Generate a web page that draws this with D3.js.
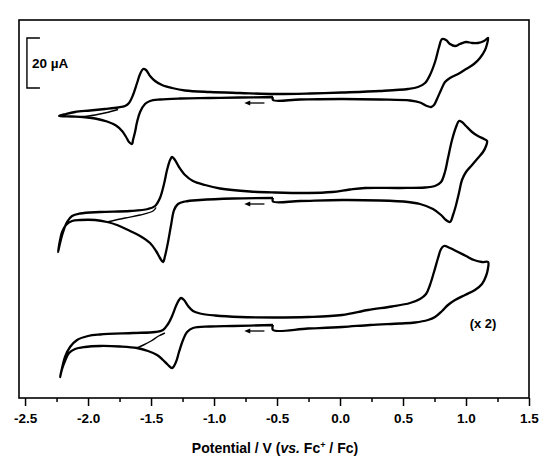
<!DOCTYPE html>
<html lang="en">
<head>
<meta charset="utf-8">
<title>Cyclic voltammograms</title>
<script src="https://cdn.jsdelivr.net/npm/d3@7"></script>
<style>
  body { margin: 0; background: #fff; }
  text { font-family: "Liberation Sans", Arial, sans-serif; font-weight: bold; fill: #000; }
</style>
</head>
<body>
<script>
// potential (V vs Fc+/Fc), current (uA)
var cv1 = [
  [-0.532,0],[-0.794,-0.2],[-1.032,-0.4],[-1.270,-0.6],[-1.429,-1.0],[-1.508,-1.6],[-1.548,-2.8],
  [-1.587,-6.0],[-1.611,-10.0],[-1.627,-14.0],[-1.643,-17.2],[-1.651,-18.8],[-1.675,-18.0],
  [-1.698,-16.0],[-1.730,-13.6],[-1.778,-11.4],[-1.849,-9.8],[-1.944,-8.6],[-2.040,-8.0],
  [-2.127,-7.8],[-2.230,-7.6],
  [-2.175,-6.8],[-2.103,-6.0],[-1.984,-5.4],[-1.865,-4.8],[-1.762,-4.2],[-1.706,-3.6],[-1.675,-2.4],
  [-1.643,0.8],[-1.611,5.6],[-1.587,9.2],[-1.563,11.2],[-1.540,10.8],[-1.508,8.4],[-1.468,6.4],
  [-1.413,4.8],[-1.333,3.6],[-1.230,2.6],[-1.032,2.0],[-0.794,1.6],[-0.516,1.2],[-0.238,1.4],
  [0.016,1.8],[0.317,2.4],[0.540,3.2],[0.619,4.0],[0.675,5.6],[0.714,8.8],[0.754,14.0],[0.786,20.0],
  [0.810,23.2],[0.841,22.8],[0.873,21.2],[0.913,20.4],[0.952,21.2],[1.000,22.0],[1.048,21.6],
  [1.095,21.6],[1.143,22.4],[1.175,23.6],
  [1.167,21.2],[1.151,18.8],[1.111,15.6],[1.063,13.2],[1.000,11.2],[0.937,9.2],[0.873,7.6],
  [0.833,6.0],[0.802,2.8],[0.770,-0.8],[0.746,-3.2],[0.722,-4.0],[0.690,-3.6],[0.635,-2.2],
  [0.556,-1.4],[0.317,-1.0],[0.016,-0.8],[-0.317,-1.0],[-0.532,-1.2],[-0.532,0]
];
var cv1second = [[-2.040,-7.9],[-1.944,-7.2],[-1.849,-6.2],[-1.762,-5.0]];
var cv2 = [
  [-0.532,1.2],[-0.849,1.0],[-1.111,0.4],[-1.230,-0.2],[-1.286,-1.2],[-1.317,-3.6],[-1.341,-9.6],
  [-1.365,-16.4],[-1.389,-22.0],[-1.405,-24.4],[-1.429,-22.8],[-1.460,-20.0],[-1.508,-16.8],
  [-1.587,-14.0],[-1.667,-12.0],[-1.770,-9.6],[-1.849,-8.4],[-1.944,-7.6],[-2.063,-7.6],
  [-2.127,-8.0],[-2.175,-9.6],[-2.206,-12.4],[-2.222,-15.6],[-2.238,-20.4],
  [-2.222,-16.8],[-2.198,-12.4],[-2.167,-8.4],[-2.127,-6.0],[-2.063,-5.0],[-1.905,-4.4],
  [-1.667,-4.0],[-1.524,-3.2],[-1.468,-2.0],[-1.429,1.2],[-1.397,6.8],[-1.373,12.4],[-1.349,16.4],
  [-1.333,17.6],[-1.310,16.4],[-1.278,13.6],[-1.230,10.4],[-1.167,8.0],[-1.071,6.4],[-0.952,5.0],
  [-0.714,3.8],[-0.516,3.4],[-0.254,3.2],[-0.063,3.6],[0.079,4.6],[0.198,5.2],[0.476,5.2],
  [0.675,5.4],[0.754,6.0],[0.802,7.6],[0.833,11.6],[0.857,17.2],[0.889,24.4],[0.921,29.6],
  [0.944,32.0],[0.968,31.6],[1.000,30.0],[1.048,27.6],[1.095,26.0],[1.143,24.8],[1.167,24.0],
  [1.159,22.0],[1.135,19.6],[1.095,17.2],[1.048,14.4],[1.000,11.6],[0.968,8.4],[0.944,3.2],
  [0.921,-1.6],[0.897,-5.6],[0.873,-8.4],[0.841,-7.6],[0.802,-5.6],[0.738,-3.2],[0.635,-1.2],
  [0.540,-0.4],[0.317,0.2],[0.016,0.4],[-0.317,0],[-0.532,-0.2],[-0.532,1.2]
];
var cv2second = [[-1.849,-8.4],[-1.706,-6.8],[-1.587,-5.6],[-1.484,-4.0],[-1.460,-2.6]];
// bottom trace is shown magnified x 2
var cv3 = [
  [-0.532,0],[-0.849,-0.2],[-1.032,-0.3],[-1.167,-0.6],[-1.214,-1.4],[-1.246,-3.0],[-1.278,-5.4],
  [-1.302,-7.4],[-1.333,-8.6],[-1.365,-8.0],[-1.405,-7.0],[-1.452,-6.0],[-1.524,-5.2],[-1.611,-4.6],
  [-1.746,-4.3],[-1.905,-4.2],[-2.024,-4.4],[-2.103,-4.8],[-2.151,-5.6],[-2.183,-7.2],[-2.206,-8.8],
  [-2.222,-10.4],
  [-2.206,-8.6],[-2.183,-6.4],[-2.143,-4.4],[-2.087,-3.0],[-2.000,-2.2],[-1.905,-1.9],[-1.643,-1.6],
  [-1.468,-1.4],[-1.405,-1.0],[-1.365,0.2],[-1.333,1.8],[-1.302,3.8],[-1.278,5.0],[-1.262,5.4],
  [-1.238,5.0],[-1.206,3.8],[-1.167,2.8],[-1.111,2.3],[-0.992,1.9],[-0.794,1.6],[-0.516,1.5],
  [-0.254,1.6],[0.016,2.0],[0.222,3.0],[0.413,3.7],[0.556,4.4],[0.635,5.2],[0.683,6.2],[0.714,8.0],
  [0.746,10.6],[0.778,13.4],[0.802,15.2],[0.825,15.8],[0.873,15.4],[0.937,14.6],[1.000,13.8],
  [1.063,13.0],[1.127,12.6],[1.175,12.6],
  [1.175,11.4],[1.159,9.8],[1.127,8.2],[1.071,7.0],[0.992,6.0],[0.913,5.0],[0.857,4.0],[0.810,2.8],
  [0.754,1.6],[0.698,1.0],[0.595,0.5],[0.476,0.3],[0.238,0],[0.016,-0.4],[-0.254,-0.7],[-0.532,-1.0],
  [-0.532,0]
];
var cv3second = [[-1.611,-4.6],[-1.560,-4.0],[-1.500,-3.2],[-1.440,-2.2],[-1.390,-1.6]];

var traceMagnify = [1, 1, 2];
var traceOffsets = [120.4, 78.8, 29.2];   // vertical stacking of the three traces (uA)
var scanArrowI = [-2.4, -1.2, -1.2];      // where the scan-direction arrow sits, per trace
var scanArrowE = [-0.60, -0.76];          // arrow from -> to (scan goes negative)

var potentialTicks = [-2.5, -2.0, -1.5, -1.0, -0.5, 0.0, 0.5, 1.0, 1.5];
var scaleBarUA = 20;

var width = 550, height = 472;
var margin = {top: 20, right: 21, bottom: 74, left: 19};
var w = width - margin.left - margin.right,
    h = height - margin.top - margin.bottom;

var xScale = d3.scaleLinear().domain([-2.548, 1.5]).range([0, w]);
var yScale = d3.scaleLinear().domain([0, 151.2]).range([h, 0]);

var svg = d3.select("body").append("svg")
    .attr("width", width)
    .attr("height", height)
  .append("g")
    .attr("transform", "translate(" + margin.left + "," + margin.top + ")");

// minor ticks first, then major
var minorTicks = d3.range(-2.25, 1.5, 0.5);
svg.append("g")
    .attr("transform", "translate(0," + h + ")")
    .call(d3.axisBottom(xScale).tickValues(minorTicks).tickSize(4).tickFormat(""))
    .call(function(g) { g.select(".domain").remove(); })
    .selectAll("line").attr("stroke-width", 1.5);

var xAxis = d3.axisBottom(xScale)
    .tickValues(potentialTicks)
    .tickSize(8)
    .tickPadding(7)
    .tickFormat(function(d) { return d.toFixed(1); });

var gx = svg.append("g")
    .attr("transform", "translate(0," + h + ")")
    .call(xAxis);
gx.select(".domain").remove();
gx.selectAll("line").attr("stroke-width", 1.5);
gx.selectAll("text")
    .style("font-size", "13.5px")
    .style("font-family", "'Liberation Sans', Arial, sans-serif")
    .style("font-weight", "bold")
    .attr("fill", "#000");

// frame
svg.append("rect")
    .attr("x", 0).attr("y", 0)
    .attr("width", w).attr("height", h)
    .attr("fill", "none")
    .attr("stroke", "#000")
    .attr("stroke-width", 1.6);

// axis title
var title = svg.append("text")
    .attr("x", w / 2 + 1)
    .attr("y", h + 55)
    .attr("text-anchor", "middle")
    .style("font-size", "14px");
title.append("tspan").text("Potential / V (");
title.append("tspan").style("font-style", "italic").text("vs.");
title.append("tspan").text(" Fc");
title.append("tspan").attr("dy", -5).style("font-size", "9px").text("+");
title.append("tspan").attr("dy", 5).text(" / Fc)");

// voltammograms
var traces = [cv1, cv2, cv3];
var extras = [cv1second, cv2second, cv3second];

function lineFor(k) {
  return d3.line()
    .x(function(d) { return xScale(d[0]); })
    .y(function(d) { return yScale(traceOffsets[k] + traceMagnify[k] * d[1]); })
    .curve(d3.curveCatmullRom.alpha(0.5));
}

traces.forEach(function(data, k) {
  var line = lineFor(k);
  svg.append("path")
      .datum(data)
      .attr("d", line)
      .attr("fill", "none")
      .attr("stroke", "#000")
      .attr("stroke-width", 2.3)
      .attr("stroke-linejoin", "round");
  svg.append("path")
      .datum(extras[k])
      .attr("d", line)
      .attr("fill", "none")
      .attr("stroke", "#000")
      .attr("stroke-width", 1.4);
  // scan direction arrow
  var ay = yScale(traceOffsets[k] + traceMagnify[k] * scanArrowI[k]);
  var x1 = xScale(scanArrowE[0]), x2 = xScale(scanArrowE[1]);
  svg.append("line")
      .attr("x1", x1).attr("x2", x2 + 3)
      .attr("y1", ay).attr("y2", ay)
      .attr("stroke", "#000")
      .attr("stroke-width", 1.3);
  svg.append("path")
      .attr("d", "M" + x2 + "," + ay + "l6,-2.5l0,5z")
      .attr("fill", "#000");
});

// 20 uA scale bar
var barX = xScale(-2.485), barTick = 13;
var barY0 = yScale(124), barY1 = yScale(124 + scaleBarUA);
svg.append("path")
    .attr("d", "M" + (barX + barTick) + "," + barY1 + "H" + barX + "V" + barY0 + "H" + (barX + barTick))
    .attr("fill", "none")
    .attr("stroke", "#000")
    .attr("stroke-width", 1.4);
svg.append("text")
    .attr("x", barX + 5)
    .attr("y", (barY0 + barY1) / 2 + 5)
    .style("font-size", "13.5px")
    .text("20 \u00b5A");

svg.append("text")
    .attr("x", xScale(1.135))
    .attr("y", yScale(28))
    .attr("text-anchor", "middle")
    .style("font-size", "13px")
    .text("(x 2)");
</script>
</body>
</html>
